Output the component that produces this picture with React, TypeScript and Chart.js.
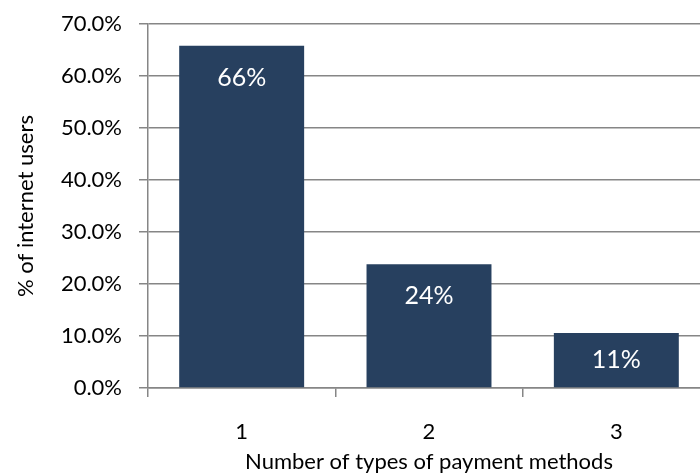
import React, { useEffect, useRef } from "react";
import { Chart, registerables } from "chart.js";

Chart.register(...registerables);

const categories = ["1", "2", "3"];
const shares = [65.8, 23.8, 10.6];
const yTicks = [0, 10, 20, 30, 40, 50, 60, 70];
const xTitle = "Number of types of payment methods";
const yTitle = "% of internet users";

const FONT = "Lato";
const FS = 22;
const LABEL_FS = 25;

const labelPlugin = {
  id: "barLabels",
  afterDatasetsDraw(chart: any) {
    const ctx = chart.ctx;
    const meta = chart.getDatasetMeta(0);
    ctx.save();
    ctx.fillStyle = "#ffffff";
    ctx.font = `${LABEL_FS}px ${FONT}`;
    ctx.textAlign = "center";
    ctx.textBaseline = "middle";
    meta.data.forEach((bar: any, i: number) => {
      const v = shares[i];
      const y = Math.min(bar.y + 32, (bar.y + bar.base) / 2);
      ctx.fillText(Math.round(v) + "%", bar.x, y);
    });
    ctx.restore();
  },
};

export default function App() {
  const ref = useRef<HTMLCanvasElement | null>(null);
  useEffect(() => {
    if (!ref.current) return;
    const chart = new Chart(ref.current, {
      type: "bar",
      data: {
        labels: categories,
        datasets: [
          {
            data: shares,
            backgroundColor: "#27405f",
            borderWidth: 0,
            categoryPercentage: 1,
            barPercentage: 0.667,
          },
        ],
      },
      options: {
        animation: false,
        responsive: false,
        devicePixelRatio: 1,
        layout: { padding: { left: 0, right: 0, top: 24, bottom: 0 } },
        plugins: { legend: { display: false }, tooltip: { enabled: false } },
        scales: {
          x: {
            type: "category",
            offset: true,
            afterFit: (s: any) => {
              s.height = 88;
              s.paddingLeft = 0;
              s.paddingRight = 0;
            },
            grid: {
              offset: true,
              drawOnChartArea: false,
              drawTicks: true,
              tickLength: 9,
              color: "#868686",
              lineWidth: 1.5,
            },
            border: { display: true, color: "#868686", width: 1.5 },
            ticks: {
              color: "#000",
              padding: 22,
              font: { family: FONT, size: FS },
            },
            title: {
              display: true,
              text: xTitle,
              color: "#000",
              font: { family: FONT, size: FS },
              padding: { top: 0, bottom: 1 },
            },
          },
          y: {
            min: 0,
            max: 70,
            afterFit: (s: any) => {
              s.width = 148;
              s.paddingTop = 0;
              s.paddingBottom = 0;
            },
            afterBuildTicks: (s: any) => {
              s.ticks = yTicks.map((v) => ({ value: v }));
            },
            grid: {
              color: "#868686",
              lineWidth: 1.5,
              drawTicks: true,
              tickLength: 9,
            },
            border: { display: true, color: "#868686", width: 1.5 },
            ticks: {
              color: "#000",
              padding: 17,
              font: { family: FONT, size: FS },
              callback: (v: any) => Number(v).toFixed(1) + "%",
            },
            title: {
              display: true,
              text: yTitle,
              color: "#000",
              font: { family: FONT, size: FS },
              padding: { top: 13, bottom: 0 },
            },
          },
        },
      },
      plugins: [labelPlugin],
    });
    return () => chart.destroy();
  }, []);
  return (
    <div
      style={{
        position: "fixed",
        left: 0,
        top: 0,
        width: 700,
        height: 476,
        overflow: "hidden",
        background: "#fff",
      }}
    >
      <canvas ref={ref} width={710} height={476} style={{ display: "block" }} />
    </div>
  );
}
